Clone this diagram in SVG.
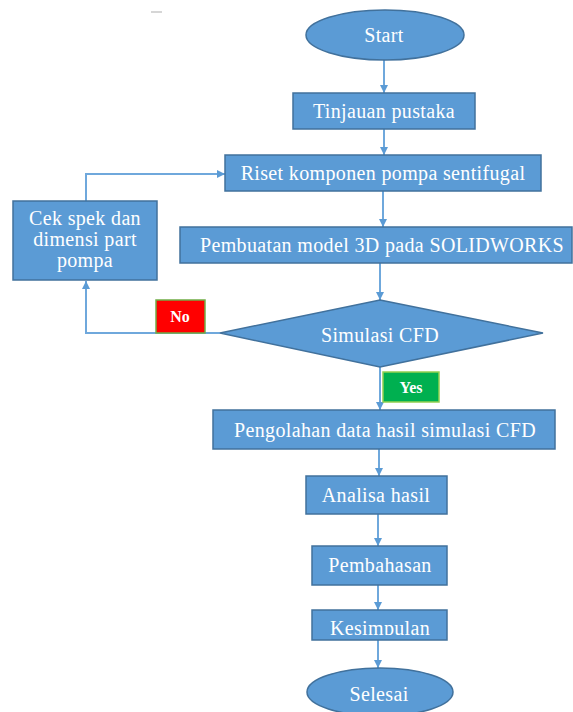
<svg xmlns="http://www.w3.org/2000/svg" width="573" height="712" viewBox="0 0 573 712">
<defs>
<style>
.n{fill:#5B9BD5;stroke:#41719C;stroke-width:1.5}
.t{font-family:"Liberation Serif","Times New Roman",serif;font-size:20px;letter-spacing:0.35px;fill:#fff;text-anchor:middle}
.c{fill:none;stroke:#6FA8DC;stroke-width:2}
.lb{font-family:"Liberation Serif","Times New Roman",serif;font-size:16px;font-weight:bold;fill:#fff;text-anchor:middle}
</style>
<marker id="ah" markerWidth="10" markerHeight="10" refX="8" refY="5" orient="auto" markerUnits="userSpaceOnUse">
<path d="M0,1 L8,5 L0,9 Z" fill="#5B9BD5"/>
</marker>
<clipPath id="kc"><rect x="312" y="610" width="135" height="25"/></clipPath>
</defs>
<rect width="573" height="712" fill="#fff"/>
<line x1="151" y1="12" x2="162" y2="12" stroke="#c8c8c8" stroke-width="1.5"/>
<g id="connectors">
<line class="c" x1="384" y1="60" x2="384" y2="93" marker-end="url(#ah)"/>
<line class="c" x1="384" y1="129" x2="384" y2="155" marker-end="url(#ah)"/>
<line class="c" x1="383" y1="191" x2="383" y2="227" marker-end="url(#ah)"/>
<line class="c" x1="380" y1="263" x2="380" y2="300" marker-end="url(#ah)"/>
<line class="c" x1="380" y1="367" x2="380" y2="410" marker-end="url(#ah)"/>
<line class="c" x1="379" y1="449" x2="379" y2="476" marker-end="url(#ah)"/>
<line class="c" x1="378" y1="514" x2="378" y2="546" marker-end="url(#ah)"/>
<line class="c" x1="378" y1="585" x2="378" y2="610" marker-end="url(#ah)"/>
<line class="c" x1="378" y1="640" x2="378" y2="668" marker-end="url(#ah)"/>
<polyline class="c" points="220,333 86,333 86,281" marker-end="url(#ah)"/>
<polyline class="c" points="86,201 86,174 225,174" marker-end="url(#ah)"/>
</g>
<g id="start"><ellipse class="n" cx="385" cy="35" rx="79" ry="25"/><text class="t" x="384" y="42">Start</text></g>
<g id="tinjauan"><rect class="n" x="293" y="93" width="182" height="36"/><text class="t" x="384" y="118">Tinjauan pustaka</text></g>
<g id="riset"><rect class="n" x="225" y="155" width="316" height="36"/><text class="t" x="383" y="180">Riset komponen pompa sentifugal</text></g>
<g id="cek"><rect class="n" x="13" y="201" width="144" height="79"/><text class="t" x="85" y="225">Cek spek dan</text><text class="t" x="85" y="246">dimensi part</text><text class="t" x="85" y="267">pompa</text></g>
<g id="pembuatan"><rect class="n" x="180" y="227" width="392" height="36"/><text class="t" x="382" y="252">Pembuatan model 3D pada SOLIDWORKS</text></g>
<g id="simulasi"><polygon class="n" points="380,300 543,333 380,367 220,333"/><text class="t" x="380" y="342">Simulasi CFD</text></g>
<g id="no"><rect x="156" y="300" width="49" height="33" fill="#FF0000" stroke="#70AD47" stroke-width="1.5"/><text class="lb" x="180" y="322">No</text></g>
<g id="yes"><rect x="383" y="372" width="56" height="30" fill="#00B050" stroke="#92D050" stroke-width="1.5"/><text class="lb" x="411" y="393">Yes</text></g>
<g id="pengolahan"><rect class="n" x="213" y="410" width="342" height="39"/><text class="t" x="385" y="437">Pengolahan data hasil simulasi CFD</text></g>
<g id="analisa"><rect class="n" x="306" y="476" width="141" height="38"/><text class="t" x="376" y="502">Analisa hasil</text></g>
<g id="pembahasan"><rect class="n" x="312" y="546" width="135" height="39"/><text class="t" x="380" y="572">Pembahasan</text></g>
<g id="kesimpulan"><rect class="n" x="312" y="610" width="135" height="30"/><text class="t" x="380" y="635" clip-path="url(#kc)">Kesimpulan</text></g>
<g id="selesai"><ellipse class="n" cx="380" cy="692" rx="73" ry="24"/><text class="t" x="379" y="701">Selesai</text></g>
</svg>
